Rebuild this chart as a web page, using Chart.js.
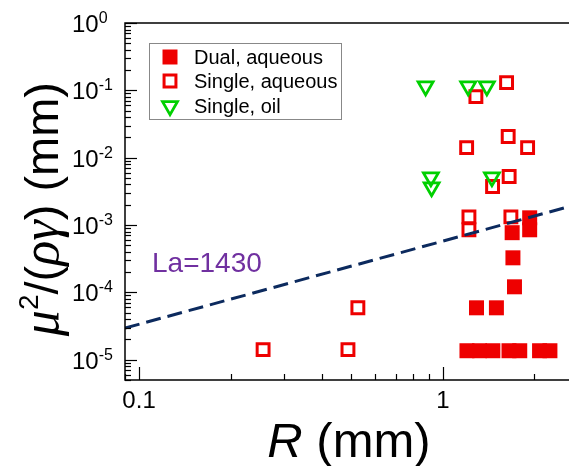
<!DOCTYPE html>
<html>
<head>
<meta charset="utf-8">
<script src="https://cdn.jsdelivr.net/npm/chart.js@4.4.1/dist/chart.umd.min.js"></script>
<style>
  body { margin: 0; background: #fff; }
  canvas { display: block; }
</style>
</head>
<body>
<canvas id="myChart" width="569" height="466"></canvas>
<script>
// dual nozzle, aqueous (filled squares)
var dualR = [1.20, 1.32, 1.46, 1.65, 1.79, 2.08, 2.25, 1.29, 1.50, 1.72, 1.70, 1.69, 1.93, 1.93];
var dualY = [1.36e-5, 1.36e-5, 1.36e-5, 1.36e-5, 1.36e-5, 1.36e-5, 1.36e-5, 5.9e-5, 5.9e-5, 1.21e-4, 3.26e-4, 7.7e-4, 1.28e-3, 8.5e-4];

// single nozzle, aqueous (open squares)
var singleAqR = [0.256, 0.487, 0.525, 1.218, 1.218, 1.674, 1.62, 1.284, 1.197, 1.64, 1.90, 1.652, 1.457];
var singleAqY = [1.41e-5, 1.41e-5, 5.9e-5, 1.32e-3, 8.5e-4, 1.32e-3, 0.130, 0.0806, 0.0141, 0.0206, 0.0141, 5.25e-3, 3.73e-3];

// single nozzle, oil (open down triangles)
var singleOilR = [0.877, 1.211, 1.395, 0.913, 0.918, 1.45];
var singleOilY = [0.115, 0.115, 0.115, 5.14e-3, 3.65e-3, 5.14e-3];

// La = 1430 guide line
var laR = [0.0899, 2.6];
var laY = [2.95e-5, 1.88e-3];

var seriesNames = ["Dual, aqueous", "Single, aqueous", "Single, oil"];
var xTickValues = [0.1, 1];
var xTickLabels = ["0.1", "1"];
var yTickExps = [0, -1, -2, -3, -4, -5];

function pts(xs, ys) {
    return xs.map(function (x, i) { return { x: x, y: ys[i] }; });
}

var red = "#ee0000";
var green = "#00d000";

// axes, ticks, labels, legend, annotation
var decorations = {
    id: "decorations",
    afterDraw: function (chart) {
        var ctx = chart.ctx;
        var xs = chart.scales.x, ys = chart.scales.y;
        var a = chart.chartArea;
        ctx.save();
        ctx.strokeStyle = "#000";
        ctx.lineWidth = 1.5;
        ctx.beginPath();
        ctx.moveTo(a.right, a.top);
        ctx.lineTo(a.left, a.top);
        ctx.lineTo(a.left, a.bottom);
        ctx.lineTo(a.right, a.bottom);
        ctx.stroke();

        // y ticks (inside)
        ctx.lineWidth = 1.2;
        for (var e = -6; e <= 0; e++) {
            for (var m = 1; m <= 9; m++) {
                var v = m * Math.pow(10, e);
                if (v < ys.min * 0.999 || v > ys.max * 1.001) continue;
                var py = Math.round(ys.getPixelForValue(v)) + 0.5;
                var len = m === 1 ? 12 : 6;
                ctx.beginPath();
                ctx.moveTo(a.left, py);
                ctx.lineTo(a.left + len, py);
                ctx.stroke();
            }
        }
        // x ticks (inside)
        for (var e2 = -2; e2 <= 0; e2++) {
            for (var m2 = 1; m2 <= 9; m2++) {
                var vx = m2 * Math.pow(10, e2);
                if (vx < xs.min || vx > xs.max) continue;
                var px = Math.round(xs.getPixelForValue(vx)) + 0.5;
                var l2 = m2 === 1 ? 13 : 6;
                ctx.beginPath();
                ctx.moveTo(px, a.bottom);
                ctx.lineTo(px, a.bottom - l2);
                ctx.stroke();
            }
        }

        // tick labels
        ctx.fillStyle = "#000";
        ctx.textBaseline = "alphabetic";
        ctx.font = '24px "Liberation Sans", Arial, sans-serif';
        ctx.textAlign = "center";
        xTickValues.forEach(function (v, i) {
            ctx.fillText(xTickLabels[i], xs.getPixelForValue(v), 408);
        });
        ctx.textAlign = "left";
        yTickExps.forEach(function (ex) {
            var py = ys.getPixelForValue(Math.pow(10, ex));
            ctx.font = '24px "Liberation Sans", Arial, sans-serif';
            ctx.fillText("10", 72, py + 9);
            var w = ctx.measureText("10").width;
            ctx.font = '16px "Liberation Sans", Arial, sans-serif';
            ctx.fillText(ex === 0 ? "0" : "-" + (-ex), 72 + w, py);
        });

        // x title
        ctx.font = 'italic 49px "Liberation Sans", Arial, sans-serif';
        var t1 = "R";
        var w1 = ctx.measureText(t1).width;
        ctx.font = '49px "Liberation Sans", Arial, sans-serif';
        var t2 = " (mm)";
        var w2 = ctx.measureText(t2).width;
        var sx = 349 - (w1 + w2) / 2;
        ctx.font = 'italic 49px "Liberation Sans", Arial, sans-serif';
        ctx.fillText(t1, sx, 457);
        ctx.font = '49px "Liberation Sans", Arial, sans-serif';
        ctx.fillText(t2, sx + w1, 457);

        // y title
        var serifI = 'italic 52px "Liberation Serif", "Times New Roman", serif';
        var sans = '47px "Liberation Sans", Arial, sans-serif';
        var sup = '28px "Liberation Sans", Arial, sans-serif';
        var parts = [
            { t: "\u03bc", f: serifI, dy: 0 },
            { t: "2", f: sup, dy: -20 },
            { t: "/(", f: sans, dy: 0 },
            { t: "\u03c1\u03b3", f: serifI, dy: 0 },
            { t: ") (mm)", f: sans, dy: 0 }
        ];
        var total = 0;
        parts.forEach(function (p) { ctx.font = p.f; p.w = ctx.measureText(p.t).width; total += p.w; });
        ctx.translate(58, 182);
        ctx.rotate(-Math.PI / 2);
        var cx = 100 - total;
        parts.forEach(function (p) {
            ctx.font = p.f;
            ctx.fillText(p.t, cx, p.dy);
            cx += p.w;
        });
        ctx.setTransform(1, 0, 0, 1, 0, 0);

        // La label
        ctx.fillStyle = "#7030a0";
        ctx.font = '28px "Liberation Sans", Arial, sans-serif';
        ctx.fillText("La=1430", 152, 272);

        // legend
        ctx.fillStyle = "#fff";
        ctx.fillRect(149.5, 43.5, 192, 76);
        ctx.strokeStyle = "#888";
        ctx.lineWidth = 1;
        ctx.strokeRect(149.5, 43.5, 192, 76);
        var rows = [57, 81, 106];
        for (var i = 0; i < 3; i++) {
            var ds = chart.data.datasets[i];
            ctx.fillStyle = ds.pointBackgroundColor;
            ctx.strokeStyle = ds.pointBorderColor;
            ctx.lineWidth = ds.pointBorderWidth;
            Chart.helpers.drawPoint(ctx, {
                pointStyle: ds.pointStyle,
                radius: ds.pointRadius,
                rotation: ds.pointRotation || 0,
                borderWidth: ds.pointBorderWidth
            }, 170, rows[i]);
            ctx.fillStyle = "#000";
            ctx.font = '20px "Liberation Sans", Arial, sans-serif';
            ctx.textBaseline = "middle";
            ctx.fillText(seriesNames[i], 194, rows[i] + 1);
        }
        ctx.restore();
    }
};

new Chart("myChart", {
    type: "scatter",
    data: {
        datasets: [
            {
                label: seriesNames[0],
                data: pts(dualR, dualY),
                pointStyle: "rect",
                pointRadius: 10.6,
                pointBackgroundColor: red,
                pointBorderColor: red,
                pointBorderWidth: 0,
                order: 3
            },
            {
                label: seriesNames[1],
                data: pts(singleAqR, singleAqY),
                pointStyle: "rect",
                pointRadius: 8.4,
                pointBackgroundColor: "rgba(0,0,0,0)",
                pointBorderColor: red,
                pointBorderWidth: 3,
                order: 4
            },
            {
                label: seriesNames[2],
                data: pts(singleOilR, singleOilY),
                pointStyle: "triangle",
                pointRotation: 180,
                pointRadius: 8.6,
                pointBackgroundColor: "rgba(0,0,0,0)",
                pointBorderColor: green,
                pointBorderWidth: 2.8,
                order: 2
            },
            {
                label: "La=1430",
                data: pts(laR, laY),
                showLine: true,
                pointRadius: 0,
                borderColor: "#0c2a5e",
                borderWidth: 3,
                borderDash: [15, 7],
                order: 1
            }
        ]
    },
    options: {
        responsive: false,
        animation: false,
        layout: { autoPadding: false, padding: { left: 125, top: 23, right: 0, bottom: 86 } },
        plugins: {
            legend: { display: false },
            tooltip: { enabled: false }
        },
        scales: {
            x: { type: "logarithmic", min: 0.0899, max: 2.6, bounds: "data", display: false },
            y: { type: "logarithmic", min: 5e-6, max: 1, bounds: "data", display: false }
        }
    },
    plugins: [decorations]
});
</script>
</body>
</html>
